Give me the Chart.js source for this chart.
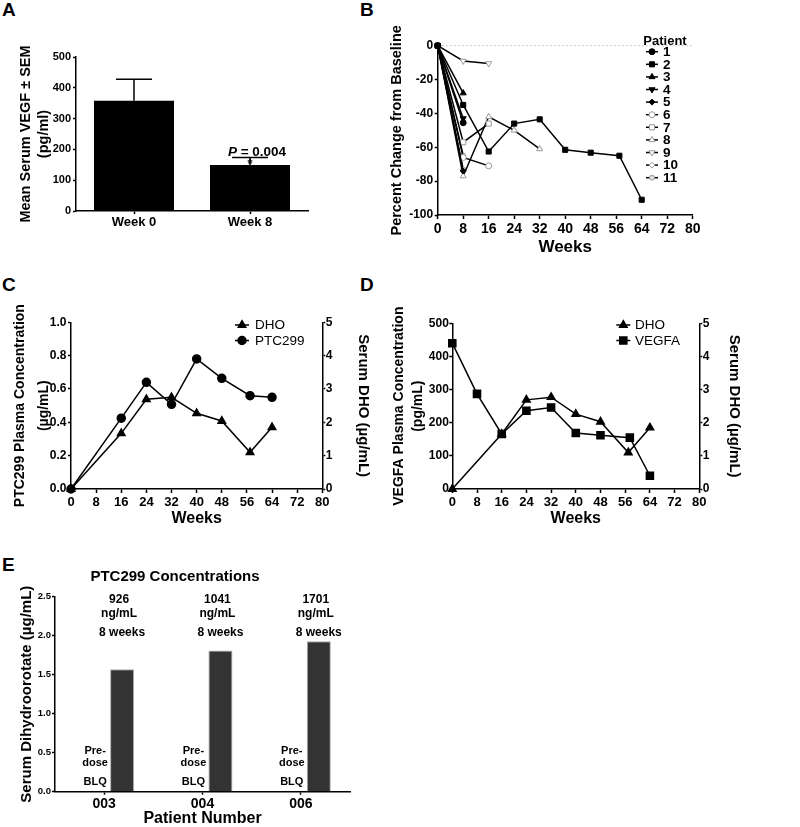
<!DOCTYPE html>
<html><head><meta charset="utf-8">
<script src="https://cdn.jsdelivr.net/npm/chart.js@4.4.0/dist/chart.umd.min.js"></script>
<style>
body{margin:0;background:#fff;width:800px;height:827px;position:relative;overflow:hidden;font-family:'Liberation Sans',Arial,sans-serif}
canvas{position:absolute}
.lt{position:absolute;font-weight:bold;font-size:19px;line-height:1;color:#000}
</style></head><body>
<div class="lt" style="left:2px;top:0px">A</div>
<div class="lt" style="left:360px;top:0px">B</div>
<div class="lt" style="left:2px;top:275px">C</div>
<div class="lt" style="left:360px;top:275px">D</div>
<div class="lt" style="left:2px;top:555px">E</div>
<canvas id="cA" width="330" height="260" style="left:0;top:0"></canvas>
<canvas id="cB" width="420" height="260" style="left:380px;top:0"></canvas>
<canvas id="cC" width="400" height="240" style="left:0;top:300px"></canvas>
<canvas id="cD" width="420" height="240" style="left:380px;top:300px"></canvas>
<canvas id="cE" width="416" height="272" style="left:0;top:555px"></canvas>
<script>
// ---------- data ----------
// Panel A
const weekLabelsA = ['Week 0', 'Week 8'];
const meanVEGF = [358, 149];
const semUpper = [428, 174];
const pValue = '0.004';
// Panel B
const patientIds = ['1','2','3','4','5','6','7','8','9','10','11'];
const patientWeeks = [
  [0, 8],
  [0, 8, 16, 24, 32, 40, 48, 57, 64],
  [0, 8],
  [0, 8],
  [0, 8],
  [0, 8, 16],
  [0, 8, 16],
  [0, 8, 16, 24, 32],
  [0, 8, 16],
  [0, 8],
  [0, 8]
];
const patientPct = [
  [0, -45.5],
  [0, -35, -62.5, -46, -43.5, -61.5, -63.2, -65, -91],
  [0, -28],
  [0, -43],
  [0, -74],
  [0, -66, -71],
  [0, -57, -46],
  [0, -77, -42, -50, -61],
  [0, -9, -10.5],
  [0, -73],
  [0, -65]
];
// Panel C
const weeksC = [0, 16, 24, 32, 40, 48, 57, 64];
const ptc299C = [0, 0.425, 0.64, 0.508, 0.78, 0.664, 0.56, 0.55];
const dhoC = [0, 1.67, 2.69, 2.75, 2.27, 2.04, 1.1, 1.85];
// Panel D
const weeksVegfa = [0, 8, 16, 24, 32, 40, 48, 57.5, 64];
const vegfaD = [440, 287, 166, 236, 246, 169, 162, 155, 40];
const weeksDhoD = [0, 16, 24, 32, 40, 48, 57, 64];
const dhoD = [0, 1.66, 2.69, 2.77, 2.26, 2.03, 1.1, 1.85];
// Panel E
const patientNumbers = ['003', '004', '006'];
const predoseDHO = [0, 0, 0];
const week8DHO = [1.57, 1.81, 1.93];
const ptcConc = ['926', '1041', '1701'];

// ---------- setup ----------
const FONT = "'Liberation Sans', Arial, sans-serif";
Chart.defaults.font.family = FONT;
Chart.defaults.font.weight = 'bold';
Chart.defaults.color = '#000';
const base = {responsive:false, animation:false, devicePixelRatio:1,
  plugins:{legend:{display:false}, tooltip:{enabled:false}}};
function grid(len){ return {display:true, drawOnChartArea:false, drawTicks:true, tickLength:len, tickColor:'#000', tickWidth:1.5}; }
const border = {display:true, color:'#000', width:1.5};
const pts = (xs, ys) => xs.map((x, i) => ({x:x, y:ys[i]}));

// ---------- Panel A ----------
const plugA = {id:'errA', afterDatasetsDraw(chart){
  const ctx = chart.ctx, y = chart.scales.y, meta = chart.getDatasetMeta(0);
  ctx.save(); ctx.strokeStyle = '#000'; ctx.lineWidth = 1.5;
  meta.data.forEach((bar, i) => {
    const yt = y.getPixelForValue(semUpper[i]);
    ctx.beginPath(); ctx.moveTo(bar.x, bar.y); ctx.lineTo(bar.x, yt);
    ctx.moveTo(bar.x - 18, yt); ctx.lineTo(bar.x + 18, yt); ctx.stroke();
  });
  const b = meta.data[1], yt = y.getPixelForValue(semUpper[1]);
  ctx.fillStyle = '#000';
  ctx.font = 'bold 13px ' + FONT; ctx.textAlign = 'center'; ctx.textBaseline = 'middle';
  ctx.fillText('*', b.x, yt + 7);
  ctx.font = 'italic bold 13.5px ' + FONT; const wP = ctx.measureText('P').width;
  ctx.font = 'bold 13.5px ' + FONT; const rest = ' = ' + pValue; const wR = ctx.measureText(rest).width;
  const x0 = b.x + 7 - (wP + wR) / 2;
  ctx.textAlign = 'left'; ctx.textBaseline = 'alphabetic';
  ctx.font = 'italic bold 13.5px ' + FONT; ctx.fillText('P', x0, yt - 1.5);
  ctx.font = 'bold 13.5px ' + FONT; ctx.fillText(rest, x0 + wP, yt - 1.5);
  ctx.restore();
}};
new Chart(document.getElementById('cA'), {
  type:'bar',
  data:{labels:weekLabelsA, datasets:[{data:meanVEGF, backgroundColor:'#000', borderWidth:0, barPercentage:0.69, categoryPercentage:1}]},
  options:Object.assign({}, base, {
    layout:{padding:{left:0, top:57, right:22, bottom:0}},
    scales:{
      x:{grid:Object.assign(grid(3), {offset:false}), border:border, ticks:{font:{size:13, weight:'bold'}, padding:1},
         afterFit:s => { s.height = 49; }},
      y:{min:0, max:500, grid:grid(3), border:border, ticks:{stepSize:100, font:{size:11, weight:'bold'}, padding:2},
         title:{display:true, text:['Mean Serum VEGF \u00b1 SEM', '(pg/ml)'], font:{size:14.5, weight:'bold', lineHeight:1.24}, padding:{top:17, bottom:0}},
         afterFit:s => { s.width = 76; }}
    }
  }),
  plugins:[plugA]
});

// ---------- Panel B ----------
const bStyle = [
  {ps:'circle', rot:0, fill:'#000', stroke:'#000', r:3},
  {ps:'rect', rot:0, fill:'#000', stroke:'#000', r:3.6},
  {ps:'triangle', rot:0, fill:'#000', stroke:'#000', r:3.5},
  {ps:'triangle', rot:180, fill:'#000', stroke:'#000', r:3.5},
  {ps:'rectRot', rot:0, fill:'#000', stroke:'#000', r:3},
  {ps:'circle', rot:0, fill:'#fff', stroke:'#999', r:3},
  {ps:'rect', rot:0, fill:'#fff', stroke:'#999', r:3.6},
  {ps:'triangle', rot:0, fill:'#fff', stroke:'#999', r:3.5},
  {ps:'triangle', rot:180, fill:'#fff', stroke:'#999', r:3.5},
  {ps:'rectRot', rot:0, fill:'#fff', stroke:'#999', r:3},
  {ps:'circle', rot:0, fill:'#ddd', stroke:'#999', r:2.5}
];
const plugB = {id:'legB',
  beforeDatasetsDraw(chart){
    const {ctx, chartArea, scales:{y}} = chart; const py = y.getPixelForValue(0);
    ctx.save(); ctx.strokeStyle = '#c8c8c8'; ctx.lineWidth = 1; ctx.setLineDash([2, 2]);
    ctx.beginPath(); ctx.moveTo(chartArea.left, py); ctx.lineTo(chartArea.right, py); ctx.stroke(); ctx.restore();
  },
  afterDraw(chart){
    const ctx = chart.ctx; ctx.save();
    ctx.fillStyle = '#000'; ctx.font = 'bold 13px ' + FONT; ctx.textAlign = 'center'; ctx.textBaseline = 'middle';
    ctx.fillText('Patient', 285, 41);
    chart.data.datasets.forEach((ds, i) => {
      const yy = 51.7 + i * 12.6, st = bStyle[i];
      ctx.strokeStyle = '#000'; ctx.lineWidth = 1.5; ctx.setLineDash([]);
      ctx.beginPath(); ctx.moveTo(266, yy); ctx.lineTo(278, yy); ctx.stroke();
      ctx.fillStyle = st.fill; ctx.strokeStyle = st.stroke; ctx.lineWidth = 1;
      Chart.helpers.drawPoint(ctx, {pointStyle:st.ps, rotation:st.rot, radius:st.r, borderWidth:1}, 272, yy);
      ctx.fillStyle = '#000'; ctx.textAlign = 'left'; ctx.font = 'bold 13.5px ' + FONT;
      ctx.fillText(ds.label, 283, yy + 0.5);
    });
    ctx.restore();
  }};
new Chart(document.getElementById('cB'), {
  type:'line',
  data:{datasets:patientIds.map((id, i) => ({
    label:id, data:pts(patientWeeks[i], patientPct[i]),
    borderColor:'#000', borderWidth:1.5, pointStyle:bStyle[i].ps, pointRotation:bStyle[i].rot,
    pointRadius:bStyle[i].r, pointBackgroundColor:bStyle[i].fill, pointBorderColor:bStyle[i].stroke,
    pointBorderWidth:1, clip:false, tension:0
  }))},
  options:Object.assign({}, base, {
    layout:{padding:{left:0, top:45.7, right:107.3, bottom:0}},
    scales:{
      x:{type:'linear', min:0, max:80, grid:grid(4), border:border, ticks:{stepSize:8, font:{size:14, weight:'bold'}, padding:2},
         title:{display:true, text:'Weeks', font:{size:17, weight:'bold'}, padding:{top:0, bottom:2.8}},
         afterFit:s => { s.height = 45; }},
      y:{min:-100, max:0, grid:grid(3), border:border, ticks:{stepSize:20, font:{size:12, weight:'bold'}, padding:1.5},
         title:{display:true, text:'Percent Change from Baseline', font:{size:14.5, weight:'bold'}, padding:{top:8.3, bottom:0}},
         afterFit:s => { s.width = 57.7; }}
    }
  }),
  plugins:[plugB]
});

// ---------- Panels C & D ----------
function legendPlugin(id, items, mx, tx, y0){
  return {id:id, afterDraw(chart){
    const ctx = chart.ctx; ctx.save();
    items.forEach((it, i) => {
      const yy = y0 + i * 15.5;
      ctx.strokeStyle = '#000'; ctx.lineWidth = 1.5;
      ctx.beginPath(); ctx.moveTo(mx - 7, yy); ctx.lineTo(mx + 7, yy); ctx.stroke();
      ctx.fillStyle = '#000';
      Chart.helpers.drawPoint(ctx, {pointStyle:it.ps, rotation:0, radius:it.r, borderWidth:1}, mx, yy);
      ctx.font = '13.5px ' + FONT; ctx.textAlign = 'left'; ctx.textBaseline = 'middle';
      ctx.fillText(it.label, tx, yy + 0.5);
    });
    ctx.restore();
  }};
}
function dualChart(el, datasets, leftOpts, rightOpts, geom, legend){
  return new Chart(el, {
    type:'line',
    data:{datasets:datasets},
    options:Object.assign({}, base, {
      layout:{padding:{left:0, top:geom.top, right:0, bottom:0}},
      scales:{
        x:{type:'linear', min:0, max:80, grid:grid(4), border:border, ticks:{stepSize:8, font:{size:13, weight:'bold'}, padding:2},
           title:{display:true, text:'Weeks', font:{size:16, weight:'bold'}, padding:{top:0, bottom:11.4}},
           afterFit:s => { s.height = geom.xh; }},
        y:Object.assign({position:'left', grid:grid(3), border:border}, leftOpts, {afterFit:s => { s.width = geom.lw; }}),
        y2:Object.assign({position:'right', min:0, max:5, grid:grid(3), border:border,
           ticks:{stepSize:1, font:{size:12, weight:'bold'}, padding:0.5},
           title:{display:true, text:'Serum DHO (\u00b5g/mL)', font:{size:15, weight:'bold'}, padding:{top:rightOpts.tp, bottom:0}}},
           {afterFit:s => { s.width = geom.rw; }})
      }
    }),
    plugins:[legend]
  });
}
const lineDs = (label, data, axis, ps, r) => ({label:label, data:data, yAxisID:axis, borderColor:'#000', borderWidth:1.5,
  pointStyle:ps, pointRadius:r, pointBackgroundColor:'#000', pointBorderColor:'#000', clip:false, tension:0});

dualChart(document.getElementById('cC'),
  [lineDs('DHO', pts(weeksC, dhoC), 'y2', 'triangle', 4.3), lineDs('PTC299', pts(weeksC, ptc299C), 'y', 'circle', 4)],
  {min:0, max:1, ticks:{stepSize:0.2, callback:v => v.toFixed(1), font:{size:12, weight:'bold'}, padding:1.5},
   title:{display:true, text:['PTC299 Plasma Concentration', '(\u00b5g/mL)'], font:{size:14, weight:'bold', lineHeight:1.714}, padding:{top:8, bottom:0}}},
  {tp:28}, {top:22.3, xh:51, lw:71, rw:77.7},
  legendPlugin('legC', [{label:'DHO', ps:'triangle', r:4.3}, {label:'PTC299', ps:'circle', r:4}], 242, 255, 25));

dualChart(document.getElementById('cD'),
  [lineDs('DHO', pts(weeksDhoD, dhoD), 'y2', 'triangle', 4.3), lineDs('VEGFA', pts(weeksVegfa, vegfaD), 'y', 'rect', 5)],
  {min:0, max:500, ticks:{stepSize:100, font:{size:12, weight:'bold'}, padding:0.5},
   title:{display:true, text:['VEGFA Plasma Concentration', '(pg/mL)'], font:{size:14, weight:'bold', lineHeight:1.357}, padding:{top:9.5, bottom:0}}},
  {tp:57}, {top:23.3, xh:51, lw:72.3, rw:100.7},
  legendPlugin('legD', [{label:'DHO', ps:'triangle', r:4.3}, {label:'VEGFA', ps:'rect', r:5}], 243.3, 255, 25));

// ---------- Panel E ----------
const plugE = {id:'annE', afterDatasetsDraw(chart){
  const ctx = chart.ctx, y = chart.scales.y, meta = chart.getDatasetMeta(1);
  const top = y.getPixelForValue(2.5), zero = y.getPixelForValue(0);
  ctx.save(); ctx.fillStyle = '#000'; ctx.textAlign = 'center'; ctx.textBaseline = 'middle';
  meta.data.forEach((bar, i) => {
    ctx.font = 'bold 12px ' + FONT;
    ctx.fillText(ptcConc[i], bar.x - 3, top + 3.3);
    ctx.fillText('ng/mL', bar.x - 3, top + 16.6);
    ctx.fillText(chart.data.datasets[1].label, bar.x, top + 36);
    ctx.font = 'bold 11px ' + FONT;
    ctx.fillText('Pre-', bar.x - 27, zero - 40.7);
    ctx.fillText('dose', bar.x - 27, zero - 28.4);
    ctx.fillText('BLQ', bar.x - 27, zero - 9.4);
  });
  ctx.restore();
}};
new Chart(document.getElementById('cE'), {
  type:'bar',
  data:{labels:patientNumbers, datasets:[
    {label:'Pre-dose', data:predoseDHO, backgroundColor:'#333', borderWidth:0, categoryPercentage:0.73, barPercentage:0.67},
    {label:'8 weeks', data:week8DHO, backgroundColor:'#333', borderColor:'#aaa', borderWidth:1, categoryPercentage:0.73, barPercentage:0.67}
  ]},
  options:Object.assign({}, base, {
    layout:{padding:{left:0, top:0, right:66, bottom:0}},
    plugins:{legend:{display:false}, tooltip:{enabled:false},
      title:{display:true, text:'PTC299 Concentrations', font:{size:15, weight:'bold'}, color:'#000', padding:{top:13, bottom:10.7}}},
    scales:{
      x:{grid:Object.assign(grid(3), {offset:false}), border:border, ticks:{font:{size:14, weight:'bold'}, padding:1},
         title:{display:true, text:'Patient Number', font:{size:16, weight:'bold', lineHeight:1}, padding:{top:0, bottom:0}},
         afterFit:s => { s.height = 35.3; }},
      y:{min:0, max:2.5, grid:grid(3), border:border, ticks:{stepSize:0.5, callback:v => v.toFixed(1), font:{size:9.5, weight:'bold'}, padding:1},
         title:{display:true, text:'Serum Dihydroorotate (\u00b5g/mL)', font:{size:15, weight:'bold'}, padding:{top:17.7, bottom:0}},
         afterFit:s => { s.width = 55; }}
    }
  }),
  plugins:[plugE]
});
</script>
</body></html>
